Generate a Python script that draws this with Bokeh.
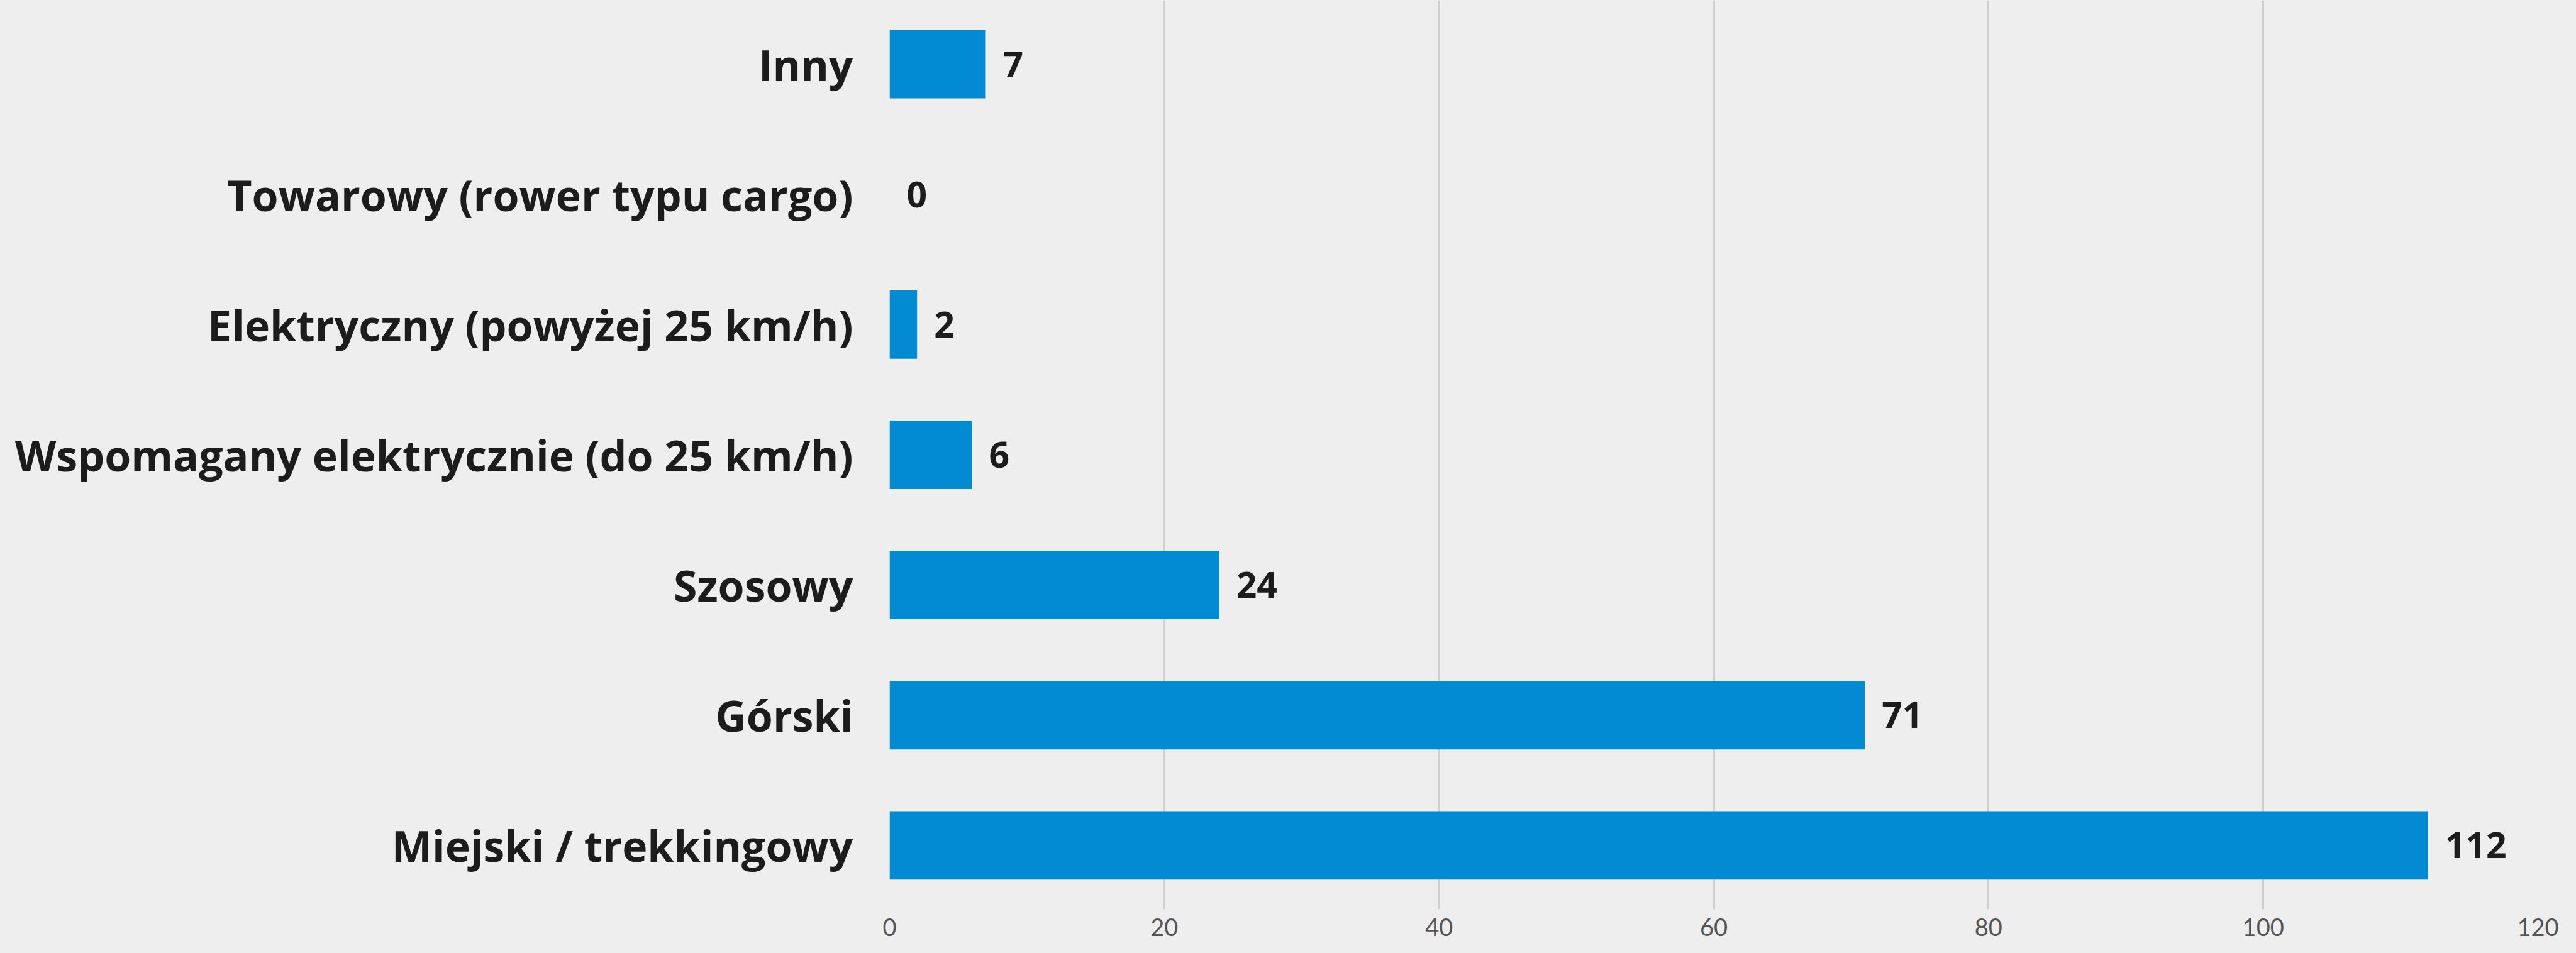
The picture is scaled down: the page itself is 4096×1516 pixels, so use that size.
from bokeh.plotting import figure
from bokeh.models import FactorRange, Range1d, FixedTicker, ColumnDataSource, GlobalInlineStyleSheet
from bokeh.core.properties import value
from bokeh.embed import file_html
from bokeh.resources import INLINE

# Data (top to bottom as shown)
categories = [
    "Inny",
    "Towarowy (rower typu cargo)",
    "Elektryczny (powyżej 25 km/h)",
    "Wspomagany elektrycznie (do 25 km/h)",
    "Szosowy",
    "Górski",
    "Miejski / trekkingowy",
]
counts = [7, 0, 2, 6, 24, 71, 112]
x_ticks = [0, 20, 40, 60, 80, 100, 120]

factors = list(reversed(categories))
src = ColumnDataSource(dict(cat=categories, val=counts, lab=[str(v) for v in counts]))

BG = "#eeeeee"
p = figure(
    width=4080, height=1500,
    y_range=FactorRange(factors=factors, range_padding=-0.01, range_padding_units="absolute"),
    x_range=Range1d(0, 120),
    output_backend="svg", toolbar_location=None,
    min_border_left=1414, min_border_right=45, min_border_top=0, min_border_bottom=54,
)
p.stylesheets = [GlobalInlineStyleSheet(css="body{background:#eeeeee;}")]
p.background_fill_color = BG
p.border_fill_color = BG
p.outline_line_color = None

p.hbar(y="cat", right="val", left=0, height=0.525, source=src,
       fill_color="#028bd3", line_color=None)

p.text(x="val", y="cat", text="lab", source=src, x_offset=27,
       text_align="left", text_baseline="middle",
       text_font=value("Open Sans"), text_font_style="bold",
       text_font_size="57px", text_color="#1c1c1c")

# grid
p.ygrid.grid_line_color = None
p.xgrid.grid_line_color = "#cfcfcf"
p.xgrid.grid_line_width = 3
p.xgrid.ticker = FixedTicker(ticks=x_ticks)

# x axis
p.xaxis.ticker = FixedTicker(ticks=x_ticks)
p.xaxis.axis_line_color = None
p.xaxis.major_tick_line_color = None
p.xaxis.minor_tick_line_color = None
p.xaxis.major_tick_out = 0
p.xaxis.major_tick_in = 0
p.xaxis.major_label_standoff = 14
p.xaxis.major_label_text_font = "Lato"
p.xaxis.major_label_text_font_size = "38px"
p.xaxis.major_label_text_color = "#555555"

# y axis
p.yaxis.axis_line_color = None
p.yaxis.major_tick_line_color = None
p.yaxis.minor_tick_line_color = None
p.yaxis.major_tick_out = 0
p.yaxis.major_tick_in = 0
p.yaxis.major_label_standoff = 58
p.yaxis.major_label_text_font = "Open Sans"
p.yaxis.major_label_text_font_style = "bold"
p.yaxis.major_label_text_font_size = "68px"
p.yaxis.major_label_text_color = "#1c1c1c"

open("out.html", "w").write(file_html(p, INLINE))
